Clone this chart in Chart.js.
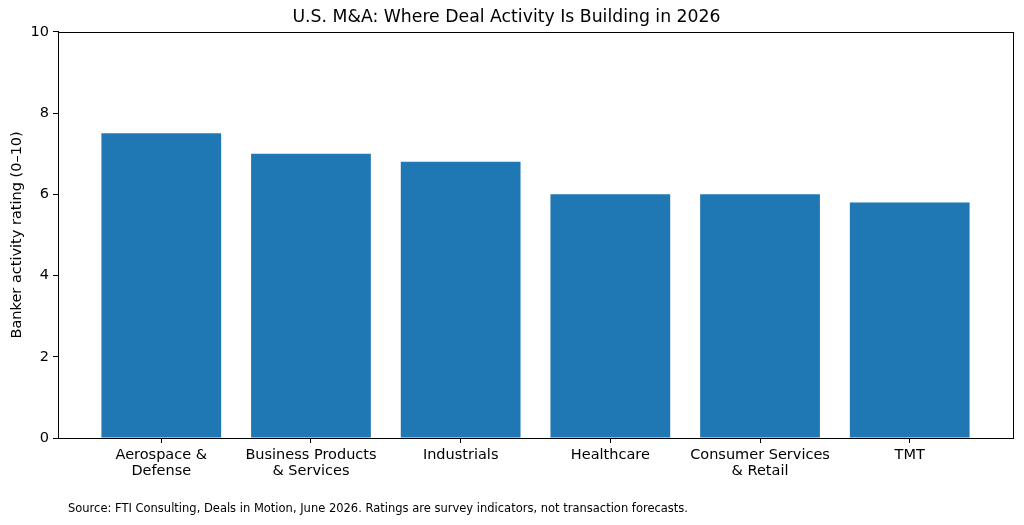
<!DOCTYPE html>
<html>
<head>
<meta charset="utf-8">
<script src="https://cdn.jsdelivr.net/npm/chart.js@4"></script>
<style>
  body { margin: 0; background: #fff; }
  #wrap { width: 1024px; height: 525px; position: relative; }
</style>
</head>
<body>
<div id="wrap"><canvas id="graph"></canvas></div>
<script>
// categories (multi-line labels) and banker ratings
const categories = [
    ['Aerospace &', 'Defense'],
    ['Business Products', '& Services'],
    ['Industrials'],
    ['Healthcare'],
    ['Consumer Services', '& Retail'],
    ['TMT']
];
const ratings = [7.5, 7.0, 6.8, 6.0, 6.0, 5.8];
const yTicks = [0, 2, 4, 6, 8, 10];

const titre = 'U.S. M&A: Where Deal Activity Is Building in 2026';
const source = 'Source: FTI Consulting, Deals in Motion, June 2026. Ratings are survey indicators, not transaction forecasts.';
const police = 'DejaVu Sans';

// frame on all four sides + source line at the bottom
const cadre = {
    id: 'cadre',
    afterDraw(chart) {
        const c = chart.ctx, a = chart.chartArea;
        c.save();
        c.strokeStyle = '#000';
        c.lineWidth = 1;
        c.strokeRect(Math.round(a.left) + 0.5, Math.round(a.top) + 0.5,
            Math.round(a.right - a.left), Math.round(a.bottom - a.top));
        c.fillStyle = '#000';
        c.font = '11.5px "' + police + '"';
        c.textBaseline = 'middle';
        c.fillText(source, 68, 509);
        c.restore();
    }
};

const pts = ratings.map((v, i) => ({ x: i, y: v }));

new Chart(document.getElementById('graph'), {
    type: 'bar',
    data: {
        datasets: [{
            data: pts,
            backgroundColor: '#1f77b4',
            borderWidth: 0,
            barPercentage: 0.8,
            categoryPercentage: 1.0
        }]
    },
    options: {
        responsive: true,
        maintainAspectRatio: false,
        animation: false,
        layout: { padding: { left: 0, right: 11, top: 0, bottom: 0 } },
        plugins: {
            legend: { display: false },
            tooltip: { enabled: false },
            title: {
                display: true,
                text: titre,
                color: '#000',
                font: { family: police, size: 17.3, weight: 'normal', lineHeight: 1.2 },
                padding: { top: 7, bottom: 4 }
            }
        },
        scales: {
            x: {
                type: 'linear',
                min: -0.69,
                max: 5.69,
                offset: false,
                afterFit: s => { s.height = 87; },
                afterBuildTicks: s => { s.ticks = categories.map((_, i) => ({ value: i })); },
                grid: { offset: false, drawOnChartArea: false, drawTicks: true, tickLength: 5, color: '#000' },
                border: { color: '#000', width: 1 },
                ticks: {
                    autoSkip: false,
                    maxRotation: 0,
                    padding: 4,
                    color: '#000',
                    font: { family: police, size: 14.5, lineHeight: 1.1 },
                    callback: v => categories[v]
                }
            },
            y: {
                min: 0,
                max: 10,
                afterFit: s => { s.width = 58; },
                afterBuildTicks: s => { s.ticks = yTicks.map(v => ({ value: v })); },
                grid: { drawOnChartArea: false, drawTicks: true, tickLength: 5, color: '#000' },
                border: { color: '#000', width: 1 },
                title: {
                    display: true,
                    text: 'Banker activity rating (0–10)',
                    color: '#000',
                    font: { family: police, size: 14.5 },
                    padding: { top: 9, bottom: 0 }
                },
                ticks: {
                    color: '#000',
                    padding: 4,
                    font: { family: police, size: 14.5 }
                }
            }
        }
    },
    plugins: [cadre]
});
</script>
</body>
</html>
